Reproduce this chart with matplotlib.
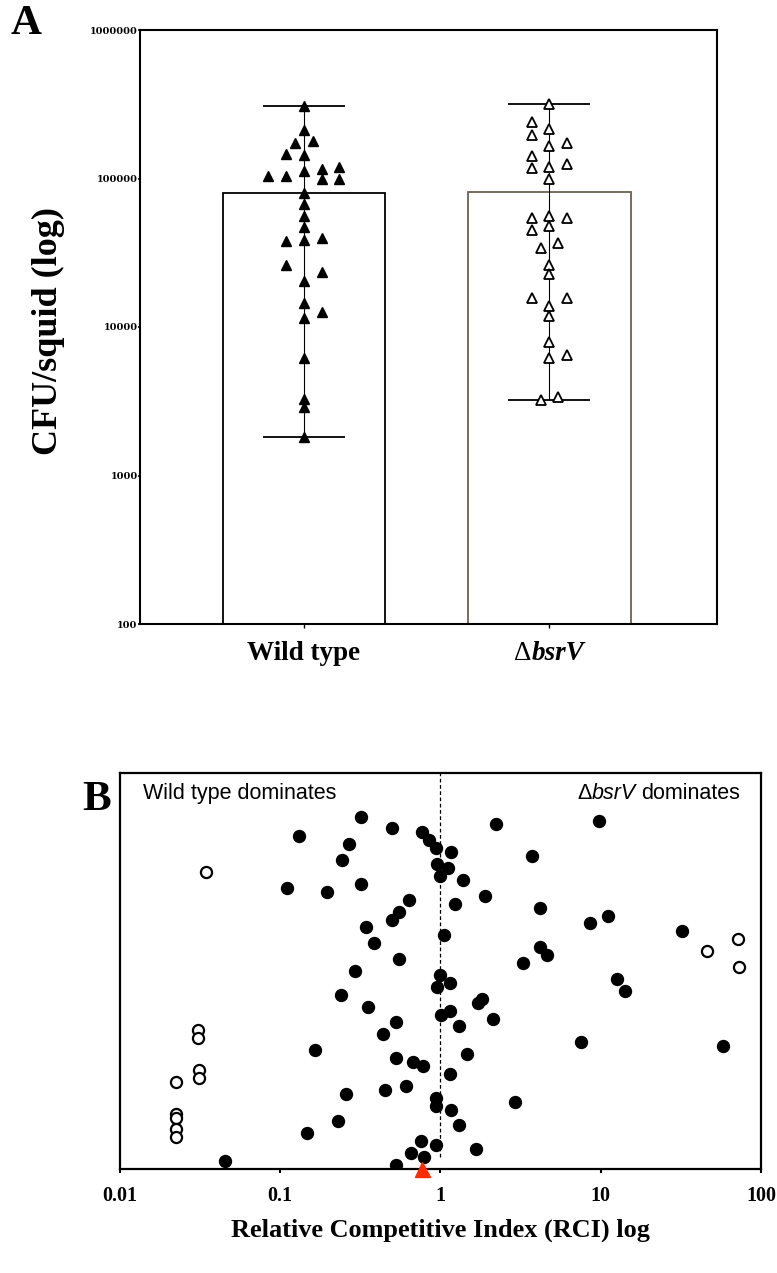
import numpy as np
import matplotlib
matplotlib.use("Agg")
import matplotlib.pyplot as plt
from matplotlib.ticker import NullLocator, FixedLocator
from matplotlib.offsetbox import TextArea, HPacker, AnnotationBbox

# ---------------- data ----------------
categories = ["Wild type", "bsrV"]

# Panel A: CFU per squid, with swarm column index for each point
wt_cfu = [307000, 211000, 143000, 111500, 80100, 67100, 55700, 47000, 38400, 20300,
          14550, 11530, 6200, 3300, 2880, 1810,
          174000, 180000,
          147000, 103600, 38000, 26100,
          103600,
          115000, 100000, 39600, 23400, 12600,
          120000, 100000]
wt_col = [0] * 16 + [-1, 1] + [-2] * 4 + [-4] + [2] * 5 + [4] * 2

mut_cfu = [316000, 214000, 165000, 119000, 98500, 55700, 47700, 26200, 22800, 13950,
           11930, 7900, 6210,
           3210, 34100,
           3390, 36900,
           239000, 197000, 141000, 118000, 54400, 44900, 15700,
           174000, 126000, 54400, 15700, 6430]
mut_col = [0] * 13 + [-1, -1] + [1, 1] + [-2] * 7 + [2] * 5

ytick_vals = [100, 1000, 10000, 100000, 1000000]
ytick_labels = ["100", "1000", "10000", "100000", "1000000"]

# Panel B: relative competitive index and rank position
rci_filled = [0.321, 0.132, 0.497, 0.764, 0.856, 0.942, 0.268, 0.243, 0.954, 1.00,
              1.17, 1.11, 1.38, 2.24, 3.73, 0.111, 0.196, 0.320, 0.640, 0.557,
              1.23, 1.89, 0.498, 0.345, 1.05, 0.386, 0.553, 3.30, 0.294, 0.997,
              1.154, 0.961, 0.239, 0.356, 1.82, 1.71, 1.01, 1.15, 2.12, 1.30,
              0.530, 0.440, 0.166, 0.530, 0.676, 0.784, 1.46, 1.15, 0.258, 0.454,
              0.611, 0.942, 0.942, 1.17, 2.94, 0.229, 1.31, 0.147, 0.758, 0.942,
              0.653, 0.789, 1.67, 0.531, 0.0457, 9.83, 4.21, 8.64, 11.1, 32.2,
              4.21, 4.61, 12.6, 14.1, 7.59, 57.6]
rank_filled = [89, 84, 86, 85, 83, 81, 82, 78, 77, 74,
               80, 76, 73, 87, 79, 71, 70, 72, 68, 65,
               67, 69, 63, 61, 59, 57, 53, 52, 50, 49,
               47, 46, 44, 41, 43, 42, 39, 40, 38, 36,
               37, 34, 30, 28, 27, 26, 29, 24, 19, 20,
               21, 18, 16, 15, 17, 12, 11, 9, 7, 6,
               4, 3, 5, 1, 2, 88, 66, 62, 64, 60,
               56, 54, 48, 45, 32, 31]
rci_open = [0.0346, 0.0307, 0.0307, 0.0312, 0.0312, 0.0225, 0.0225, 0.0225,
            0.0225, 0.0225, 72.2, 46.2, 72.8]
rank_open = [75, 35, 33, 25, 23, 22, 14, 13, 10, 8, 58, 55, 51]
rci_median = [0.77]
xtick_vals_b = [0.01, 0.1, 1, 10, 100]
xtick_labels_b = ["0.01", "0.1", "1", "10", "100"]

# ---------------- figure ----------------
W, H = 777, 1273
fig = plt.figure(figsize=(W / 100, H / 100), dpi=100)
SERIF = "Liberation Serif"
SANS = "Liberation Sans"

# ---------- Panel A ----------
axA = fig.add_axes([140 / W, 1 - 624 / H, 577 / W, 594 / H])
axA.set_yscale("log")
xs = np.arange(len(categories))
means = [np.mean(wt_cfu), np.mean(mut_cfu)]
lows = [np.min(wt_cfu), np.min(mut_cfu)]
highs = [np.max(wt_cfu), np.max(mut_cfu)]
axA.bar(xs, means, width=0.66, color="white",
        edgecolor=["black", "#6b6154"], linewidth=1.3, zorder=1)
yerr = [np.array(means) - np.array(lows), np.array(highs) - np.array(means)]
eb = axA.errorbar(xs, means, yerr=yerr, fmt="none", ecolor="black",
                  elinewidth=0.8, capsize=29.4, capthick=1.3, zorder=2)
for cap in eb[1]:
    cap.set_color("#707070")

step = 0.036
axA.plot(xs[0] + np.array(wt_col) * step, wt_cfu, "^", ms=6.5,
         color="black", zorder=3, clip_on=False)
axA.plot(xs[1] + np.array(mut_col) * step, mut_cfu, "^", ms=6.5,
         mfc="white", mec="black", mew=1.3, zorder=3, clip_on=False)

axA.set_xlim(-0.667, 1.682)
axA.set_ylim(100, 1e6)
axA.yaxis.set_major_locator(FixedLocator(ytick_vals))
axA.yaxis.set_minor_locator(NullLocator())
axA.set_yticklabels(ytick_labels)
for lab in axA.get_yticklabels():
    lab.set_fontfamily("DejaVu Serif")
    lab.set_fontweight("bold")
    lab.set_fontsize(7)
axA.tick_params(axis="y", length=1.5, width=1.2, pad=0.2)
axA.set_xticks(xs)
axA.set_xticklabels(["", ""])
axA.tick_params(axis="x", length=3, width=1)
for sp in axA.spines.values():
    sp.set_linewidth(1.5)

lab_fs = 19.5
ta_wt = TextArea(categories[0], textprops=dict(family=SERIF, size=lab_fs, weight="bold"))
ab = AnnotationBbox(ta_wt, (xs[0], 0), xycoords=("data", "axes fraction"),
                    xybox=(0, -12.3), boxcoords="offset points",
                    box_alignment=(0.5, 1), frameon=False, pad=0)
axA.add_artist(ab)
ta_d = TextArea("\u0394", textprops=dict(family=SERIF, size=lab_fs, weight="normal"))
ta_b = TextArea(categories[1], textprops=dict(family=SERIF, size=lab_fs,
                                               weight="bold", style="italic"))
box = HPacker(children=[ta_d, ta_b], align="baseline", pad=0, sep=0)
ab2 = AnnotationBbox(box, (xs[1], 0), xycoords=("data", "axes fraction"),
                     xybox=(0, -12.3), boxcoords="offset points",
                     box_alignment=(0.5, 1), frameon=False, pad=0)
axA.add_artist(ab2)

fig.text(48 / W, 1 - 331 / H, "CFU/squid (log)", rotation=90, ha="center",
         va="center", family=SERIF, weight="bold", fontsize=26)
fig.text(26 / W, 1 - 24 / H, "A", ha="center", va="center", family=SERIF,
         weight="bold", fontsize=31)

# ---------- Panel B ----------
axB = fig.add_axes([119.5 / W, 1 - 1169 / H, 641.5 / W, 396 / H])
axB.set_xscale("log")
axB.plot(rci_filled, rank_filled, "o", ms=8.6, color="black", zorder=3)
axB.plot(rci_open, rank_open, "o", ms=8.0, mfc="white", mec="black",
         mew=1.6, zorder=3)
axB.plot(rci_median, [0], "^", ms=10.8, color="#ff2a00", zorder=5, clip_on=False)
axB.axvline(1, ymin=0.03, ymax=1, color="black", lw=0.9, ls=(0, (3, 2)), zorder=2)
axB.set_xlim(0.01, 100)
axB.set_ylim(0, 100)
axB.xaxis.set_major_locator(FixedLocator(xtick_vals_b))
axB.xaxis.set_minor_locator(NullLocator())
axB.set_xticklabels(xtick_labels_b)
for lab in axB.get_xticklabels():
    lab.set_fontfamily(SERIF)
    lab.set_fontweight("bold")
    lab.set_fontsize(14.5)
axB.tick_params(axis="x", length=3.2, width=1.5, pad=9.3)
axB.set_yticks([])
for sp in axB.spines.values():
    sp.set_linewidth(1.6)

ann_fs = 15.5
axB.text(0.036, 0.934, "Wild type dominates", transform=axB.transAxes,
         ha="left", va="baseline", family=SANS, fontsize=ann_fs)
t3 = axB.text(0.968, 0.934, "dominates", transform=axB.transAxes,
              ha="right", va="baseline", family=SANS, fontsize=ann_fs)
t2 = axB.annotate(categories[1], xy=(0, 0), xycoords=t3, xytext=(-0.278 * ann_fs, 0),
                  textcoords="offset points", ha="right", va="bottom",
                  family=SANS, style="italic", fontsize=ann_fs)
t1 = axB.annotate("\u0394", xy=(0, 0), xycoords=t2, ha="right", va="bottom",
                  family=SANS, fontsize=ann_fs)

fig.text(440 / W, 1 - 1230 / H, "Relative Competitive Index (RCI) log",
         ha="center", va="center", family=SERIF, weight="bold", fontsize=18.9)
fig.text(97 / W, 1 - 800 / H, "B", ha="center", va="center", family=SERIF,
         weight="bold", fontsize=31)

fig.savefig("out.png", dpi=100)
